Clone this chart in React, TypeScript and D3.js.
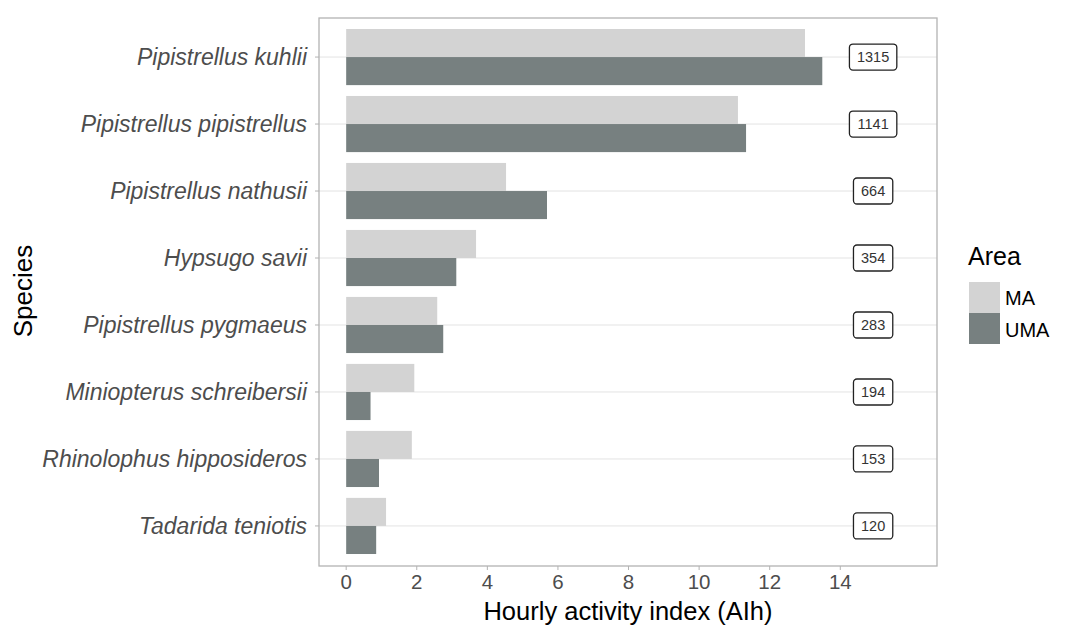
import React from "react";
import * as d3 from "d3";

const species = [
  "Pipistrellus kuhlii",
  "Pipistrellus pipistrellus",
  "Pipistrellus nathusii",
  "Hypsugo savii",
  "Pipistrellus pygmaeus",
  "Miniopterus schreibersii",
  "Rhinolophus hipposideros",
  "Tadarida teniotis",
];
const maValues = [13.0, 11.1, 4.53, 3.68, 2.58, 1.93, 1.86, 1.13];
const umaValues = [13.49, 11.33, 5.69, 3.12, 2.75, 0.69, 0.93, 0.85];
const counts = ["1315", "1141", "664", "354", "283", "194", "153", "120"];
const areas = ["MA", "UMA"];
const xTicks = [0, 2, 4, 6, 8, 10, 12, 14];

const W = 1067;
const H = 628;
const panel = { left: 319, right: 937, top: 18, bottom: 566 };
const colors: Record<string, string> = { MA: "#d3d3d3", UMA: "#778080" };
const FONT = "'Liberation Sans', Arial, sans-serif";

export default function App() {
  const x = d3.scaleLinear().domain([-0.77, 16.74]).range([panel.left, panel.right]);
  const y = d3
    .scaleBand<string>()
    .domain(species)
    .range([panel.top - 1, panel.bottom])
    .paddingInner(0.162)
    .paddingOuter(0.179);
  const barH = y.bandwidth() / 2;
  const labelX = x(14.93);

  return (
    <svg width={W} height={H} style={{ position: "absolute", left: 0, top: 0 }} fontFamily={FONT}>
      <rect x={0} y={0} width={W} height={H} fill="#fff" />
      {/* gridlines */}
      {species.map((s) => {
        const cy = (y(s) as number) + y.bandwidth() / 2;
        return <line key={"g" + s} x1={panel.left} x2={panel.right} y1={cy} y2={cy} stroke="#e3e3e3" strokeWidth={1} />;
      })}
      {/* bars */}
      {species.map((s, i) => {
        const top = y(s) as number;
        return (
          <g key={"b" + s}>
            <rect x={x(0)} y={top} width={x(maValues[i]) - x(0)} height={barH} fill={colors.MA} />
            <rect x={x(0)} y={top + barH} width={x(umaValues[i]) - x(0)} height={barH} fill={colors.UMA} />
          </g>
        );
      })}
      {/* count labels */}
      {species.map((s, i) => {
        const cy = (y(s) as number) + y.bandwidth() / 2;
        const w = counts[i].length * 8.1 + 15;
        return (
          <g key={"l" + s}>
            <rect x={labelX - w / 2} y={cy - 13} width={w} height={26} rx={3.5} fill="#fff" stroke="#222" strokeWidth={1.3} />
            <text x={labelX} y={cy} dy="0.36em" textAnchor="middle" fontSize={14.5} fill="#333">
              {counts[i]}
            </text>
          </g>
        );
      })}
      {/* panel border */}
      <rect x={panel.left} y={panel.top} width={panel.right - panel.left} height={panel.bottom - panel.top} fill="none" stroke="#b3b3b3" strokeWidth={1.3} />
      {/* y axis */}
      {species.map((s) => {
        const cy = (y(s) as number) + y.bandwidth() / 2;
        return (
          <g key={"y" + s}>
            <line x1={panel.left - 4} x2={panel.left} y1={cy} y2={cy} stroke="#b3b3b3" />
            <text x={panel.left - 12} y={cy} dy="0.36em" textAnchor="end" fontSize={23} fontStyle="italic" fill="#4d4d4d">
              {s}
            </text>
          </g>
        );
      })}
      {/* x axis */}
      {xTicks.map((t) => (
        <g key={"x" + t}>
          <line x1={x(t)} x2={x(t)} y1={panel.bottom} y2={panel.bottom + 4} stroke="#b3b3b3" />
          <text x={x(t)} y={589} textAnchor="middle" fontSize={20.5} fill="#4d4d4d">
            {t}
          </text>
        </g>
      ))}
      <text x={628} y={620} textAnchor="middle" fontSize={25.5} fill="#000">
        Hourly activity index (AIh)
      </text>
      <text transform={`translate(32, 291) rotate(-90)`} textAnchor="middle" fontSize={26} fill="#000">
        Species
      </text>
      {/* legend */}
      <text x={968} y={265} fontSize={25} fill="#000">
        Area
      </text>
      {areas.map((a, i) => (
        <g key={"lg" + a}>
          <rect x={969} y={282 + i * 31} width={31} height={31} fill={colors[a]} />
          <text x={1005} y={305 + i * 32} fontSize={20} fill="#000">
            {a}
          </text>
        </g>
      ))}
    </svg>
  );
}
